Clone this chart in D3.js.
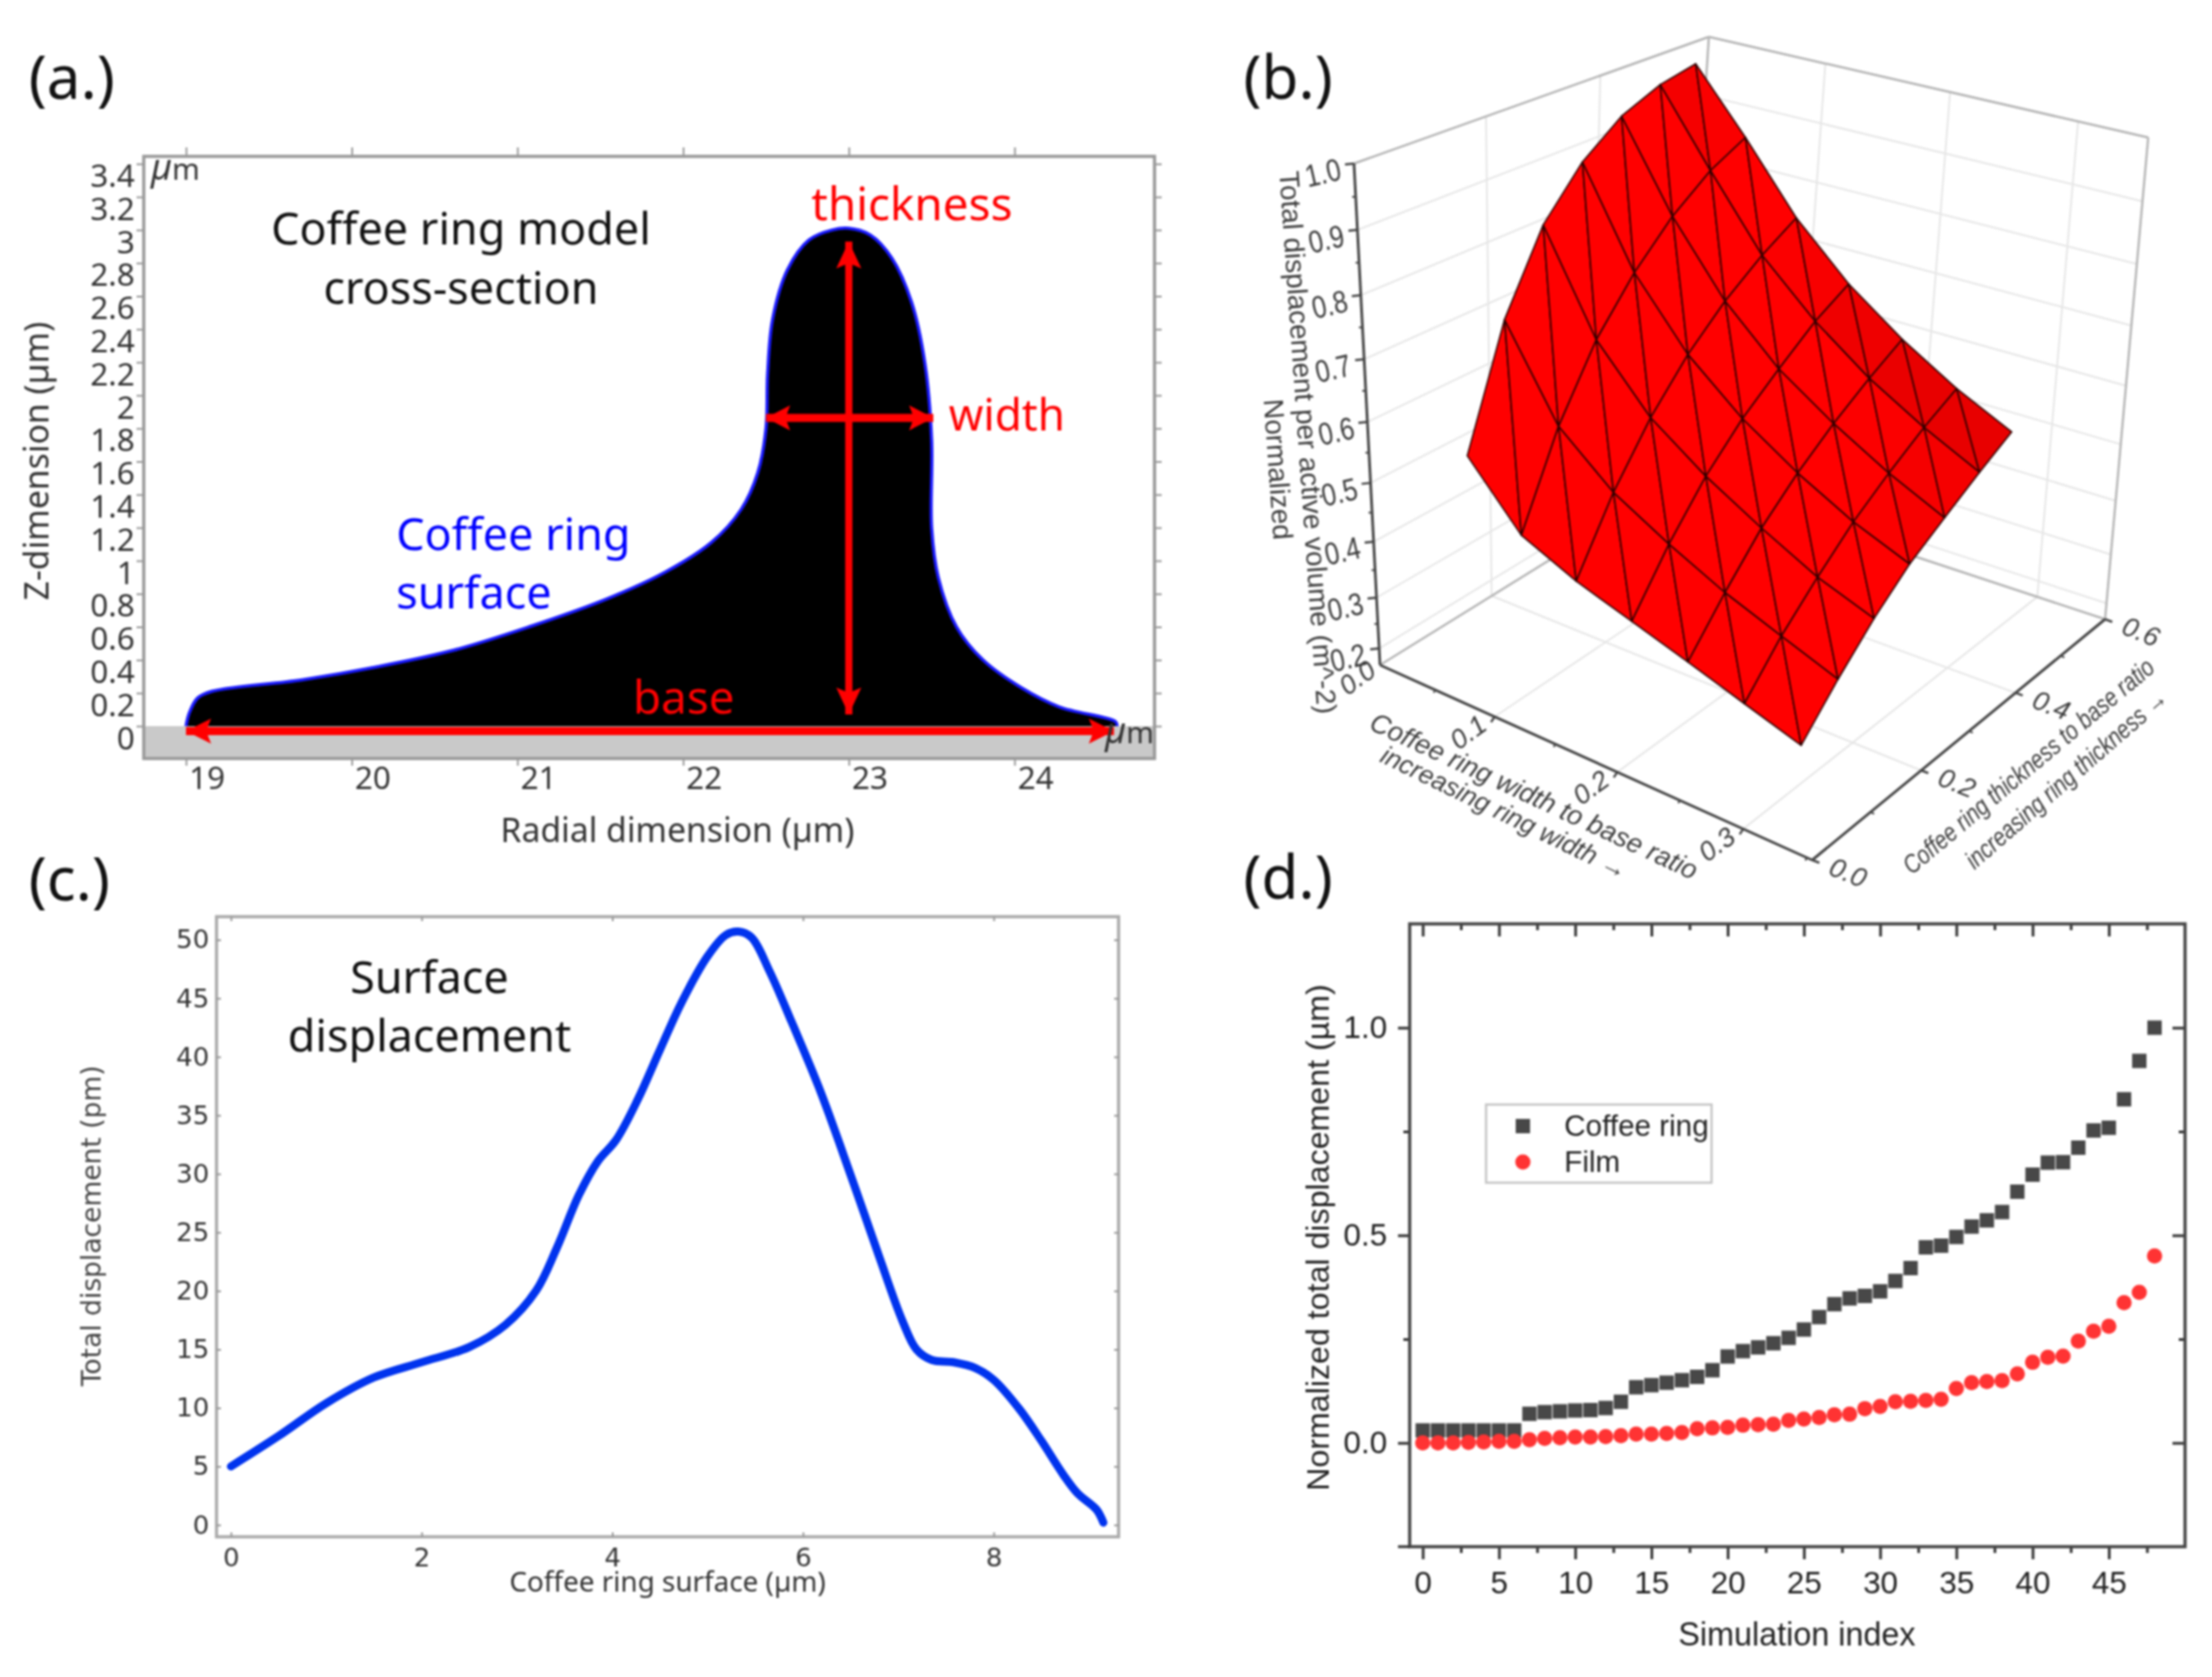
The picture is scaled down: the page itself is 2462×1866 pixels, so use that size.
<!DOCTYPE html>
<html>
<head>
<meta charset="utf-8">
<title>Coffee ring model</title>
<script src="https://cdn.jsdelivr.net/npm/d3@7"></script>
<style>
  body { margin: 0; background: #fff; }
  svg { display: block; filter: blur(0.8px); }
  text { font-family: "Noto Sans", sans-serif; }
  .panel-d text { font-family: "Liberation Sans", sans-serif; }
  .panel-b text { font-family: "Liberation Sans", sans-serif; font-style: italic; fill: #3c3c3c; }
  .panel-b text.upright { font-style: normal; }
</style>
</head>
<body>
<svg id="chart" width="2462" height="1866"></svg>
<script>
// (a) cross-section outline, radial position and height in um
const profileX = [19, 19.02, 19.07, 19.155, 19.7, 20.16, 20.62, 21.07, 21.53, 21.89, 22.17, 22.35, 22.45, 22.5, 22.51, 22.54, 22.63, 22.76, 22.9, 23, 23.13, 23.26, 23.38, 23.46, 23.5, 23.5, 23.54, 23.65, 23.81, 24.04, 24.27, 24.61, 24.62];
const profileZ = [0, 0.08, 0.17, 0.21, 0.28, 0.36, 0.46, 0.6, 0.765, 0.93, 1.11, 1.31, 1.53, 1.8, 2.13, 2.46, 2.76, 2.94, 3, 3.01, 2.97, 2.83, 2.56, 2.19, 1.73, 1.2, 0.9, 0.6, 0.4, 0.233, 0.116, 0.027, 0];
const radialTicks = [19, 20, 21, 22, 23, 24];
const heightTicks = [0, 0.2, 0.4, 0.6, 0.8, 1, 1.2, 1.4, 1.6, 1.8, 2, 2.2, 2.4, 2.6, 2.8, 3, 3.2, 3.4];

// (b) surface: ratios of the mesh nodes and normalized displacement (rows = thickness)
const ratioWidth = [0.025, 0.07, 0.115, 0.16, 0.205, 0.25, 0.295];
const ratioThick = [0.11, 0.18, 0.25, 0.32, 0.39, 0.46, 0.525];
const surfaceZ = [
  [0.503, 0.401, 0.358, 0.326, 0.294, 0.26, 0.226],
  [0.697, 0.551, 0.473, 0.42, 0.373, 0.335, 0.298],
  [0.823, 0.663, 0.564, 0.498, 0.444, 0.395, 0.36],
  [0.899, 0.744, 0.637, 0.56, 0.5, 0.45, 0.412],
  [0.949, 0.809, 0.695, 0.61, 0.548, 0.495, 0.451],
  [0.977, 0.858, 0.742, 0.658, 0.59, 0.536, 0.49],
  [0.99, 0.889, 0.778, 0.692, 0.625, 0.569, 0.524]
];
const zTicks = [0.2, 0.3, 0.4, 0.5, 0.6, 0.7, 0.8, 0.9, 1.0];
const zMinor = [0.25, 0.35, 0.45, 0.55, 0.65, 0.75, 0.85, 0.95];
const widthTicks = [0, 0.1, 0.2, 0.3];
const widthMinor = [0.05, 0.15, 0.25, 0.35];
const thickTicks = [0.0, 0.2, 0.4, 0.6];
const thickMinor = [0.1, 0.3, 0.5];

// (c) surface displacement
const surfS = [0, 0.5, 1, 1.5, 2, 2.5, 2.88, 3.2, 3.42, 3.65, 3.85, 4.04, 4.27, 4.5, 4.73, 5, 5.19, 5.32, 5.46, 5.65, 5.88, 6.19, 6.5, 6.8, 7.04, 7.19, 7.35, 7.58, 7.81, 8, 8.27, 8.5, 8.73, 8.88, 9.08, 9.15];
const surfDisp = [5, 7.6, 10.4, 12.6, 13.9, 15.2, 17.1, 20, 23.7, 28.2, 31.1, 32.9, 36.4, 40.6, 44.7, 48.6, 50.4, 50.7, 50.2, 47.3, 43, 36.9, 29.9, 22.9, 17.5, 15, 14.1, 13.9, 13.4, 12.4, 9.9, 7.2, 4.3, 2.7, 1.3, 0.2];
const dispTicks = [0, 5, 10, 15, 20, 25, 30, 35, 40, 45, 50];
const sTicks = [0, 2, 4, 6, 8];

// (d) simulation sweep
const coffeeRing = [0.03, 0.03, 0.03, 0.03, 0.03, 0.03, 0.03, 0.07, 0.074, 0.076, 0.078, 0.079, 0.084, 0.099, 0.134, 0.139, 0.145, 0.151, 0.159, 0.175, 0.208, 0.221, 0.23, 0.24, 0.253, 0.273, 0.303, 0.334, 0.348, 0.354, 0.365, 0.39, 0.421, 0.471, 0.475, 0.496, 0.521, 0.536, 0.556, 0.605, 0.646, 0.675, 0.676, 0.711, 0.7525, 0.759, 0.8275, 0.92, 1.0];
const film = [0, 0, 0, 0.001, 0.002, 0.004, 0.004, 0.0075, 0.011, 0.0125, 0.014, 0.014, 0.015, 0.0175, 0.021, 0.021, 0.0225, 0.025, 0.034, 0.036, 0.0375, 0.0425, 0.044, 0.045, 0.054, 0.0575, 0.061, 0.0675, 0.069, 0.0825, 0.0875, 0.099, 0.1, 0.1025, 0.105, 0.131, 0.145, 0.1475, 0.15, 0.166, 0.194, 0.206, 0.209, 0.245, 0.269, 0.281, 0.3375, 0.3625, 0.45];
const indexTicks = [0, 5, 10, 15, 20, 25, 30, 35, 40, 45];
const indexMinor = [2.5, 7.5, 12.5, 17.5, 22.5, 27.5, 32.5, 37.5, 42.5, 47.5];
const normTicks = [0, 0.5, 1];
const normMinor = [0.25, 0.75];

const svg = d3.select("#chart");

function label(g, x, y, txt, size, color, anchor, rot) {
  const t = g.append("text")
    .attr("x", x).attr("y", y)
    .attr("font-size", size)
    .attr("fill", color || "#111")
    .attr("text-anchor", anchor || "start")
    .text(txt);
  if (rot) t.attr("transform", `rotate(${rot} ${x} ${y})`);
  return t;
}

label(svg, 32, 110, "(a.)", 67, "#111");
label(svg, 1384, 110, "(b.)", 67, "#111");
label(svg, 32, 1002, "(c.)", 67, "#111");
label(svg, 1384, 1000, "(d.)", 67, "#111");

// ---------- (a) ----------
const a = svg.append("g").attr("class", "panel-a");
const xA = d3.scaleLinear().domain([18.745, 24.845]).range([160, 1285]);
const yA = d3.scaleLinear().domain([-0.196, 3.445]).range([844, 174]);

a.append("rect").attr("x", 160).attr("y", yA(0)).attr("width", 1125).attr("height", 844 - yA(0)).attr("fill", "#c9c9c9");

const outline = d3.line().x((d, i) => xA(profileX[i])).y(d => yA(d)).curve(d3.curveCatmullRom);
a.append("path").datum(profileZ)
  .attr("d", outline)
  .attr("fill", "#000").attr("stroke", "#1a1aff").attr("stroke-width", 3.5).attr("stroke-linejoin", "round");

function greyAxis(g, axis, tr) {
  const ax = g.append("g").attr("transform", tr).call(axis);
  ax.select(".domain").remove();
  ax.selectAll("line").attr("stroke", "#999").attr("stroke-width", 2);
  return ax;
}
function greyFrame(g, x0, y0, w, h, c) {
  g.append("rect").attr("x", x0).attr("y", y0).attr("width", w).attr("height", h)
    .attr("fill", "none").attr("stroke", c).attr("stroke-width", 3.5);
}

const aLeft = greyAxis(a, d3.axisLeft(yA).tickValues(heightTicks).tickSize(8).tickFormat(d3.format("~g")), "translate(160,0)");
aLeft.selectAll("text").attr("font-size", 35).attr("fill", "#333").attr("x", -10).attr("dy", "0.72em");
greyAxis(a, d3.axisRight(yA).tickValues(heightTicks).tickSize(8).tickFormat(""), "translate(1285,0)");
greyAxis(a, d3.axisTop(xA).tickValues(radialTicks).tickSize(10).tickFormat(""), "translate(0,174)");
const aBot = greyAxis(a, d3.axisBottom(xA).tickValues(radialTicks).tickSize(8).tickFormat(d3.format("d")), "translate(0,844)");
aBot.selectAll("text").attr("font-size", 35).attr("fill", "#333").attr("text-anchor", "start").attr("x", 3).attr("y", 9);
greyFrame(a, 160, 174, 1125, 670, "#999");

// red dimension arrows
function arrow(g, x1, y1, x2, y2, lw, hl, hw) {
  const ang = Math.atan2(y2 - y1, x2 - x1) * 180 / Math.PI;
  g.append("line").attr("x1", x1).attr("y1", y1).attr("x2", x2).attr("y2", y2)
    .attr("stroke", "#f00").attr("stroke-width", lw);
  [[x1, y1, ang + 180], [x2, y2, ang]].forEach(([x, y, r]) => {
    g.append("path").attr("d", `M0,0L${-hl},${-hw / 2}L${-hl * 0.8},0L${-hl},${hw / 2}Z`)
      .attr("fill", "#f00").attr("transform", `translate(${x},${y}) rotate(${r})`);
  });
}
arrow(a, xA(19), yA(-0.03), xA(24.6), yA(-0.03), 9, 28, 28);
arrow(a, xA(23), yA(2.93), xA(23), yA(0.07), 8, 30, 28);
arrow(a, xA(22.5), yA(1.864), xA(23.51), yA(1.864), 9, 27, 28);

label(a, 513, 272, "Coffee ring model", 50, "#111", "middle");
label(a, 513, 338, "cross-section", 50, "#111", "middle");
label(a, 1015, 245, "thickness", 51, "#f00", "middle");
label(a, 1056, 479, "width", 49, "#f00");
label(a, 441, 612, "Coffee ring", 50, "#0000ff");
label(a, 441, 677, "surface", 50, "#0000ff");
label(a, 761, 794, "base", 51, "#f00", "middle");
label(a, 54, 513, "Z-dimension (\u00b5m)", 37.5, "#333", "middle", -90);
label(a, 754, 937, "Radial dimension (\u00b5m)", 37.5, "#333", "middle");
[[168, 200], [1230, 827]].forEach(([x, y]) => {
  const t = label(a, x, y, "", 33, "#333");
  t.append("tspan").attr("font-style", "italic").attr("font-size", 40).text("\u00b5");
  t.append("tspan").text("m");
});

// ---------- (b) ----------
const b = svg.append("g").attr("class", "panel-b");
// box corners on screen, bottom and top faces
const cornerL = [1536, 740], cornerF = [2017, 957], cornerR = [2343, 689], cornerB = [1870, 533];
const topL = [1507, 182], topF = [2020, 345], topR = [2391, 153], topB = [1902, 41];
const wMax = 0.354, tMax = 0.6, zMin = 0.16, zMax = 1;
const uScale = d3.scalePow().exponent(1.05).domain([0, wMax]).range([0, 1]);
const vScale = d3.scalePow().exponent(0.9).domain([0, tMax]).range([0, 1]);
const hScale = d3.scalePow().exponent(1.12).domain([0, zMax - zMin]).range([0, 1]);
const mix = (p, q, s) => [p[0] + (q[0] - p[0]) * s, p[1] + (q[1] - p[1]) * s];
function project(w, t, z) {
  const u = uScale(w), v = vScale(t), h = hScale(z - zMin);
  const bot = mix(mix(cornerL, cornerF, u), mix(cornerB, cornerR, u), v);
  const top = mix(mix(topL, topF, u), mix(topB, topR, u), v);
  return mix(bot, top, h);
}
const seg = (p, q, c, lw) => b.append("line").attr("x1", p[0]).attr("y1", p[1]).attr("x2", q[0]).attr("y2", q[1]).attr("stroke", c).attr("stroke-width", lw);

// grid on floor and walls
const gridC = "#e6e6e6";
zTicks.forEach(z => {
  seg(project(0, 0, z), project(0, tMax, z), gridC, 2);
  seg(project(0, tMax, z), project(wMax, tMax, z), gridC, 2);
});
[0.1, 0.2, 0.3].forEach(w => {
  seg(project(w, 0, zMin), project(w, tMax, zMin), gridC, 2);
  seg(project(w, tMax, zMin), project(w, tMax, zMax), gridC, 2);
});
[0.2, 0.4].forEach(t => {
  seg(project(0, t, zMin), project(wMax, t, zMin), gridC, 2);
  seg(project(0, t, zMin), project(0, t, zMax), gridC, 2);
});
// box edges
const edgeC = "#b5b5b5";
seg(project(0, 0, zMax), project(0, tMax, zMax), edgeC, 2.5);
seg(project(0, tMax, zMax), project(wMax, tMax, zMax), edgeC, 2.5);
seg(project(wMax, tMax, zMax), project(wMax, tMax, zMin), edgeC, 2.5);
seg(project(0, tMax, zMin), project(0, tMax, zMax), edgeC, 2.5);
seg(project(0, 0, zMin), project(0, tMax, zMin), edgeC, 2.5);
seg(project(wMax, tMax, zMin), project(0, tMax, zMin), edgeC, 2.5);

// axes with ticks
const axisC = "#444";
seg(project(0, 0, zMin), project(0, 0, zMax), axisC, 3);
seg(project(0, 0, zMin), project(wMax, 0, zMin), axisC, 3);
seg(project(wMax, 0, zMin), project(wMax, tMax, zMin), axisC, 3);

// surface triangles, the smallest projected ones read slightly darker
const tri = [];
ratioThick.slice(1).forEach((t, j) => {
  ratioWidth.slice(1).forEach((w, i) => {
    const p = (ii, jj) => project(ratioWidth[ii], ratioThick[jj], surfaceZ[jj][ii]);
    tri.push([p(i, j), p(i + 1, j), p(i, j + 1)]);
    tri.push([p(i + 1, j), p(i + 1, j + 1), p(i, j + 1)]);
  });
});
const shade = d3.scaleLinear().domain([2300, 2700]).range(["#e80000", "#ff0000"]).clamp(true);
b.append("g").selectAll("path").data(tri).enter().append("path")
  .attr("d", d => "M" + d.join("L") + "Z")
  .attr("fill", d => shade(Math.abs(d3.polygonArea(d))))
  .attr("stroke", "#2a0000").attr("stroke-width", 1.6).attr("stroke-linejoin", "round");

// tick marks and labels
function tickLabel(p, dx, dy, txt, rot, size, squeeze, cls) {
  const x = p[0] + dx, y = p[1] + dy;
  b.append("text").attr("class", cls || null).attr("font-size", size)
    .attr("text-anchor", "middle").attr("dominant-baseline", "middle")
    .attr("transform", `translate(${x},${y}) rotate(${rot}) scale(${squeeze},1)`).text(txt);
}
zTicks.forEach(z => {
  const p = project(0, 0, z);
  seg(p, [p[0] - 10, p[1] + 1], axisC, 2.5);
  tickLabel(p, -34, 13, d3.format(".1f")(z), -13, 35, 0.82, "upright");
});
zMinor.forEach(z => {
  const p = project(0, 0, z);
  seg(p, [p[0] - 4, p[1]], axisC, 2);
});
widthTicks.forEach(w => {
  const p = project(w, 0, zMin);
  if (w) seg(p, [p[0] - 4, p[1] + 6], axisC, 2.5);
  tickLabel(p, w ? -28 : -24, w ? 19 : 16, d3.format(".1f")(w), -36, 30, 1);
});
widthMinor.forEach(w => {
  const p = project(w, 0, zMin);
  seg(p, [p[0] - 2, p[1] + 3], axisC, 2);
});
thickTicks.forEach(t => {
  const p = project(wMax, t, zMin);
  seg(p, [p[0] + 8, p[1] + 3], axisC, 2.5);
  tickLabel(p, 39, 16, d3.format(".1f")(t), 22, 30, 1);
});
thickMinor.forEach(t => {
  const p = project(wMax, t, zMin);
  seg(p, [p[0] + 4, p[1] + 2], axisC, 2);
});

// axis titles, the thickness ones sit on a foreshortened face
function title(x, y, txt, rot, size, cls, squeeze) {
  b.append("text").attr("class", cls || null).attr("font-size", size)
    .attr("text-anchor", "middle")
    .attr("transform", `translate(${x},${y}) rotate(${rot}) scale(${squeeze || 1},1)`).text(txt);
}
title(1445, 493, "Total displacement per active volume (m^-2)", 86, 31, "upright");
title(1412, 523, "Normalized", 86, 31, "upright");
title(1703, 895, "Coffee ring width to base ratio", 25, 30);
title(1670, 913, "increasing ring width \u2192", 26, 29);
title(2264, 860, "Coffee ring thickness to base ratio", -40, 29, null, 0.81);
title(2306, 874, "increasing ring thickness \u2192", -41, 29, null, 0.81);

// ---------- (c) ----------
const c = svg.append("g").attr("class", "panel-c");
const xC = d3.scaleLinear().domain([-0.151, 9.31]).range([241, 1245]);
const yC = d3.scaleLinear().domain([0, 50]).range([1696.8, 1045.7]);
const cFont = '"DejaVu Sans", sans-serif';
greyFrame(c, 241, 1020, 1004, 690, "#aaa");
const cLeft = greyAxis(c, d3.axisRight(yC).tickValues(dispTicks).tickSize(5), "translate(241,0)");
cLeft.selectAll("text").attr("x", -8).attr("text-anchor", "end").attr("font-size", 29).attr("fill", "#333").style("font-family", cFont);
greyAxis(c, d3.axisLeft(yC).tickValues(dispTicks).tickSize(5).tickFormat(""), "translate(1245,0)");
const cBot = greyAxis(c, d3.axisTop(xC).tickValues(sTicks).tickSize(5), "translate(0,1710)");
cBot.selectAll("text").attr("y", 33).attr("dy", 0).attr("font-size", 29).attr("fill", "#333").style("font-family", cFont);
greyAxis(c, d3.axisBottom(xC).tickValues(sTicks).tickSize(5).tickFormat(""), "translate(0,1020)");
c.append("path").datum(surfDisp)
  .attr("d", d3.line().x((d, i) => xC(surfS[i])).y(d => yC(d)).curve(d3.curveCatmullRom))
  .attr("fill", "none").attr("stroke", "#0033ee").attr("stroke-width", 9).attr("stroke-linecap", "round");
label(c, 478, 1105, "Surface", 50, "#111", "middle");
label(c, 478, 1170, "displacement", 50, "#111", "middle");
label(c, 112, 1364, "Total displacement (pm)", 29.5, "#444", "middle", -90).style("font-family", cFont);
label(c, 743, 1771, "Coffee ring surface (\u00b5m)", 31, "#333", "middle");

// ---------- (d) ----------
const d = svg.append("g").attr("class", "panel-d");
const xD = d3.scaleLinear().domain([-0.855, 50]).range([1569, 2432]);
const yD = d3.scaleLinear().domain([-0.25, 1.25]).range([1721, 1028]);
function blackAxis(g, axis, tr) {
  const ax = g.append("g").attr("transform", tr).call(axis);
  ax.select(".domain").remove();
  ax.selectAll("line").attr("stroke", "#333").attr("stroke-width", 3);
  return ax;
}
const dBot = blackAxis(d, d3.axisBottom(xD).tickValues(indexTicks).tickSize(14).tickPadding(13), "translate(0,1721)");
dBot.selectAll("text").attr("font-size", 35).attr("fill", "#222");
blackAxis(d, d3.axisBottom(xD).tickValues(indexMinor).tickSize(7).tickFormat(""), "translate(0,1721)");
blackAxis(d, d3.axisBottom(xD).tickValues(indexTicks).tickSize(14).tickFormat(""), "translate(0,1028)");
blackAxis(d, d3.axisBottom(xD).tickValues(indexMinor).tickSize(7).tickFormat(""), "translate(0,1028)");
const dLeft = blackAxis(d, d3.axisLeft(yD).tickValues(normTicks).tickSize(13).tickPadding(12).tickFormat(d3.format(".1f")), "translate(1569,0)");
dLeft.selectAll("text").attr("font-size", 35).attr("fill", "#222");
blackAxis(d, d3.axisLeft(yD).tickValues(normMinor).tickSize(7).tickFormat(""), "translate(1569,0)");
blackAxis(d, d3.axisLeft(yD).tickValues(normTicks).tickSize(14).tickFormat(""), "translate(2432,0)");
blackAxis(d, d3.axisLeft(yD).tickValues(normMinor).tickSize(7).tickFormat(""), "translate(2432,0)");
d.append("path").attr("d", "M2432,1028H1569V1721H2432Z").attr("fill", "none").attr("stroke", "#444").attr("stroke-width", 3.5);
d.append("line").attr("x1", 1556).attr("x2", 1569).attr("y1", 1721).attr("y2", 1721).attr("stroke", "#333").attr("stroke-width", 3);

d.append("g").selectAll("rect").data(coffeeRing).enter().append("rect")
  .attr("x", (v, i) => xD(i) - 8).attr("y", v => yD(v) - 8)
  .attr("width", 16).attr("height", 16).attr("fill", "#484848");
d.append("g").selectAll("circle").data(film).enter().append("circle")
  .attr("cx", (v, i) => xD(i)).attr("cy", v => yD(v)).attr("r", 8.5).attr("fill", "#ff3333");

d.append("rect").attr("x", 1654).attr("y", 1229).attr("width", 251).attr("height", 87)
  .attr("fill", "#fff").attr("stroke", "#c4c4c4").attr("stroke-width", 2.5);
d.append("rect").attr("x", 1687).attr("y", 1245).attr("width", 16).attr("height", 16).attr("fill", "#484848");
d.append("circle").attr("cx", 1695).attr("cy", 1293).attr("r", 8.5).attr("fill", "#ff3333");
label(d, 1741, 1264, "Coffee ring", 33, "#222");
label(d, 1741, 1304, "Film", 33, "#222");
label(d, 2000, 1831, "Simulation index", 36, "#222", "middle");
label(d, 1479, 1377, "Normalized total displacement (\u00b5m)", 35.8, "#222", "middle", -90);
</script>
</body>
</html>
